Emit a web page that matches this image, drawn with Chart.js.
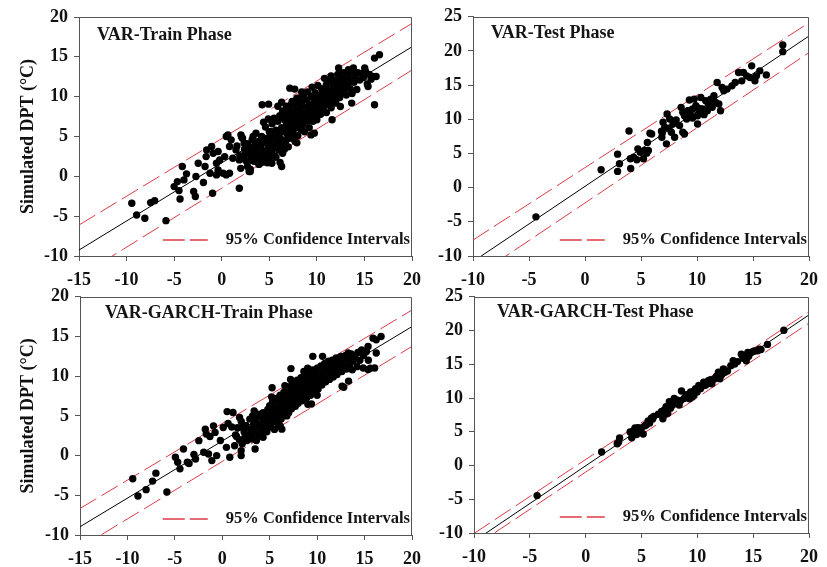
<!DOCTYPE html>
<html>
<head>
<meta charset="utf-8">
<script src="https://cdn.jsdelivr.net/npm/chart.js@4.4.1/dist/chart.umd.min.js"></script>
<style>
  html, body { margin: 0; padding: 0; background: #ffffff; }
  body { width: 827px; height: 567px; position: relative; overflow: hidden; }
  canvas { position: absolute; }
</style>
</head>
<body>
<canvas id="c1" style="left:0px;top:0px;width:430px;height:285px"></canvas>
<canvas id="c2" style="left:420px;top:0px;width:407px;height:285px"></canvas>
<canvas id="c3" style="left:0px;top:280px;width:430px;height:284px"></canvas>
<canvas id="c4" style="left:420px;top:280px;width:407px;height:282px"></canvas>
<script>
// Observed DPT (x) vs simulated DPT (y), degrees C

// ---- VAR, training phase ----
const varTrainPoints = [
  [-9.45,-3.38],[-8.94,-4.85],[-8.08,-5.27],[-7.47,-3.3],[-7.05,-3.05],[-5.86,-5.56],[-5.0,-1.29],[-4.66,-0.66],
  [-4.38,-2.84],[-4.49,-1.79],[-4.14,1.23],[-3.7,0.31],[-3.97,-0.45],[-2.95,-1.91],[-2.77,-2.54],[-2.71,-0.03],
  [-2.47,1.65],[-1.92,-0.78],[-1.75,1.23],[-1.64,2.48],[-1.58,3.32],[-0.96,-2.12],[-1.23,0.39],[-1.06,3.74],
  [-0.89,2.9],[-0.55,1.65],[-0.38,0.81],[-0.55,0.18],[0.14,0.39],[0.48,0.18],[0.82,0.39],[0.48,5.0],[0.65,5.2],
  [0.82,3.74],[0.99,4.58],[0.31,2.48],[-0.21,2.06],[-0.38,3.11],[1.16,2.27],[1.5,3.32],[1.85,2.06],[1.85,-1.5],
  [2.02,5.21],[2.36,4.16],[2.19,4.79],[2.71,1.23],[2.88,0.6],
  [16.58,15.26],[16.06,14.84],[16.06,8.98],[11.6,7.1],[9.38,5.2],[9.73,5.42],[5.27,1.65],[6.13,1.73],[6.3,1.23],
  [7.16,11.07],[7.67,10.95],[4.25,8.98],[4.93,9.06],[12.47,8.77],[13.66,9.19],[12.29,13.59],[13.32,13.38],
  [13.84,13.59],[15.03,13.59],[15.89,12.54],[15.38,11.28],[16.23,12.54],
  [1.6,3.8],[1.9,2.6],[2.1,4.9],[2.3,2.2],[2.4,3.4],[2.6,1.9],[2.7,4.1],[2.8,2.8],[2.9,3.6],[3.0,0.6],[3.0,0.9],
  [3.1,2.3],[3.2,4.6],[3.3,3.1],[3.4,1.9],[3.5,2.6],[3.5,4.0],[3.6,5.4],[3.7,3.4],[3.8,2.1],[3.9,1.5],[3.9,4.4],
  [4.0,2.9],[4.1,3.8],[4.2,5.0],[4.3,2.4],[4.4,1.8],[4.4,4.2],[4.5,3.2],[4.6,6.2],[4.7,2.7],[4.8,4.8],[4.8,1.7],
  [4.9,3.6],[5.0,5.6],[5.0,2.2],[5.1,4.2],[5.2,3.0],[5.3,6.6],[5.4,4.9],[5.5,2.6],[5.5,7.3],[5.6,3.8],[5.7,5.8],
  [5.8,4.4],[5.9,6.9],[6.0,3.3],[6.0,5.2],[6.1,7.6],[6.2,4.7],[6.3,6.1],[6.4,2.9],[6.4,8.2],[6.5,5.6],[6.6,7.1],
  [6.7,4.1],[6.8,6.5],[6.8,8.8],[6.9,5.3],[7.0,7.7],[7.0,3.7],[7.1,6.0],[7.2,8.4],[7.3,4.8],[7.3,7.1],[7.4,9.4],
  [7.5,5.7],[7.5,6.6],[7.6,8.0],[7.7,4.4],[7.7,7.4],[7.8,9.1],[7.9,6.2],[7.9,8.6],[8.0,5.1],[8.0,7.8],[8.1,9.8],
  [8.2,6.8],[8.2,8.3],[8.3,5.9],[8.4,7.3],[8.4,9.3],[8.5,6.4],[8.5,8.8],[8.6,10.2],[8.7,7.6],[8.7,5.6],[8.8,8.0],
  [8.9,9.6],[8.9,6.9],[9.0,7.3],[9.0,10.6],[9.1,8.5],[9.2,6.1],[9.2,9.0],[9.3,7.8],[9.4,10.0],[9.5,8.2],[9.5,11.2],
  [9.6,6.9],[9.7,9.4],[9.8,7.5],[9.8,10.5],[9.9,8.8],[10.0,9.8],[10.0,7.1],[10.1,11.4],[10.2,8.3],[10.3,10.2],
  [10.3,9.2],[10.4,7.8],[10.5,11.0],[10.6,9.6],[10.7,8.6],[10.8,10.7],[10.8,12.3],[10.9,9.1],[11.0,11.5],[11.0,8.0],
  [11.1,10.1],[11.2,9.5],[11.3,11.9],[11.4,10.6],[11.5,8.6],[11.5,12.6],[11.6,9.9],[11.7,11.2],[11.8,10.4],
  [11.9,12.0],[12.0,9.2],[12.0,11.6],[12.1,10.8],[12.2,12.8],[12.3,11.3],[12.4,9.9],[12.5,12.2],[12.6,10.5],
  [12.7,11.7],[12.8,13.0],[12.9,11.0],[13.0,12.4],[13.1,10.2],[13.2,11.6],[13.3,12.9],[13.5,11.0],[13.6,12.2],
  [13.7,10.4],[13.8,13.2],[13.9,11.8],[14.0,12.6],[14.2,10.9],[14.3,13.0],[14.5,12.1],[14.7,12.9],[14.9,12.4],
  [15.1,13.2],[15.3,11.6],[15.5,12.8],[15.7,12.2],
  [2.5,2.9],[3.2,2.0],[3.6,3.0],[4.0,1.6],[4.5,2.1],[5.0,3.0],[5.4,3.5],[5.7,2.4],[6.1,3.9],[6.3,4.5],[6.6,3.4],
  [6.9,4.7],[7.2,5.3],[7.6,5.0],[7.9,4.2],[8.1,6.1],[8.6,6.9],[9.1,7.0],[9.4,7.4],[9.9,8.0],[10.4,8.4],[10.9,10.0],
  [11.3,9.0],[11.8,9.4],[12.2,10.0],[12.6,11.4],[6.2,5.8],[6.7,6.0],[7.1,7.0],[7.4,6.3],[7.8,7.0],[8.3,7.9],
  [8.8,7.2],[9.3,8.9],[9.7,8.0],[10.1,9.2],[10.6,10.0],[11.1,10.8],[5.2,5.6],[5.8,5.0],[6.5,7.8],[7.0,8.2],
  [7.3,9.0],[7.9,9.8],[8.4,10.6],[5.9,8.8],[6.3,9.3],[4.4,6.8],[4.9,7.2],[3.3,5.0],[2.0,1.0]
];
const varTrainFit   = [[-15, -9.25], [20, 16.26]];
const varTrainUpper = [[-15, -6.11], [20, 19.2]];
const varTrainLower = [[-15, -12.6], [20, 13.34]];

// ---- VAR, testing phase ----
const varTestPoints = [
  [-4.38,-4.27],[1.44,2.62],[2.91,4.9],[2.91,2.38],[3.08,3.5],[3.93,8.3],[4.05,4.22],[4.08,2.82],[4.34,4.47],
  [4.63,4.08],[4.72,5.68],[4.93,5.19],[5.22,4.22],[5.36,5.44],[5.51,5.05],[5.57,6.6],[5.8,7.96],[5.95,7.86],
  [5.66,5.44],[6.83,8.25],[6.97,9.56],[6.86,7.38],[7.12,8.83],[7.27,6.41],[7.33,10.78],[7.56,10.05],[7.71,8.1],
  [7.85,9.32],[8.0,7.38],[8.14,9.9],[8.44,9.08],[8.58,11.75],[8.73,8.1],[8.88,10.53],[8.88,7.86],[9.17,11.26],
  [9.32,12.82],[9.46,10.53],[9.61,11.5],[9.75,12.96],[9.9,11.99],[10.05,9.32],[10.05,10.53],[10.19,10.87],
  [10.34,13.2],[10.49,11.5],[10.63,10.68],[10.78,12.72],[10.92,11.26],[11.07,11.99],[11.22,12.96],[11.36,11.75],
  [11.51,13.45],[11.66,12.48],[11.8,15.39],[11.95,12.23],[12.1,11.26],[12.24,14.66],[12.39,14.17],[12.68,14.42],
  [13.12,14.9],[13.41,15.39],[13.71,16.84],[14.0,15.63],[14.14,16.84],[14.44,16.36],[14.73,16.12],[14.88,17.82],
  [15.17,15.63],[15.31,16.36],[15.61,17.09],[16.19,16.5],[17.66,20.87],[17.66,19.9],
  [8.73,11.02],[9.08,10.05],[9.6,10.2],[10.2,11.6],[11.0,12.4],[7.5,8.7],[6.9,8.0],[9.4,11.3]
];
const varTestFit   = [[-10, -10.81], [20, 22.19]];
const varTestUpper = [[-10, -7.67], [20, 24.13]];
const varTestLower = [[-10, -13.24], [20, 19.76]];

// ---- VAR-GARCH, training phase ----
const garchTrainPoints = [
  [-9.44,-2.92],[-8.89,-5.08],[-8.03,-4.29],[-7.35,-3.21],[-7.0,-2.21],[-5.84,-4.58],[-4.94,-0.21],[-4.7,-0.83],
  [-4.46,-1.67],[-4.09,0.83],[-3.68,-0.83],[-3.5,-1.0],[-2.99,0.13],[-2.82,-0.42],[-2.47,1.88],[-1.96,0.42],
  [-1.79,3.33],[-1.69,2.71],[-1.45,0.21],[-1.1,-0.63],[-0.93,3.75],[-0.76,2.92],[-0.59,0.0],[-1.3,2.4],[-0.2,1.9],
  [0.1,3.54],[0.51,5.54],[1.13,5.42],[0.61,4.04],[0.44,1.04],[0.79,-0.21],[1.3,1.25],[1.99,0.63],[1.99,0.0],
  [1.82,4.79],[2.16,3.54],[2.5,2.08],[3.46,0.83],[3.36,5.63],[5.25,8.54],[7.24,10.96],[6.1,3.75],[6.28,3.33],
  [9.02,6.46],[9.54,12.5],[10.57,12.5],[12.63,8.75],[13.31,9.38],[14.86,11.04],[15.37,10.83],[16.06,11.04],
  [16.23,12.92],[16.23,14.58],[16.74,15.0],[15.89,14.79],[13.28,12.92],[14.65,13.13],[15.37,13.75],[1.0,3.6],[1.5,2.4],
  [1.4,2.6],[1.6,3.5],[1.8,2.0],[2.0,4.3],[2.1,1.5],[2.3,3.0],[2.5,3.8],[2.6,1.9],[2.8,2.6],[2.9,4.6],[3.0,3.3],
  [3.1,2.1],[3.2,5.0],[3.3,3.9],[3.4,2.8],[3.5,4.4],[3.6,1.9],[3.7,3.5],[3.8,5.2],[3.9,2.5],[4.0,4.0],[4.1,3.1],
  [4.2,4.8],[4.3,2.3],[4.4,3.7],[4.5,5.3],[4.6,4.3],[4.7,3.0],[4.8,5.8],[4.9,4.7],[5.0,3.6],[5.0,6.3],[5.1,5.1],
  [5.2,4.1],[5.3,6.8],[5.4,5.6],[5.5,3.3],[5.5,4.6],[5.6,6.1],[5.7,7.2],[5.8,5.2],[5.9,4.0],[6.0,6.6],[6.0,5.7],
  [6.1,7.6],[6.2,4.6],[6.3,6.2],[6.4,7.0],[6.4,5.3],[6.5,8.0],[6.6,6.5],[6.7,5.8],[6.8,7.4],[6.8,8.4],[6.9,6.9],
  [7.0,5.4],[7.0,7.9],[7.1,6.3],[7.2,8.7],[7.3,7.2],[7.3,5.9],[7.4,8.2],[7.5,6.7],[7.5,9.2],[7.6,7.6],[7.7,6.2],
  [7.8,8.5],[7.8,7.0],[7.9,9.5],[8.0,7.9],[8.0,6.6],[8.1,8.9],[8.2,7.4],[8.3,9.8],[8.3,8.2],[8.4,6.9],[8.5,8.7],
  [8.6,7.8],[8.6,9.3],[8.7,8.1],[8.8,10.1],[8.9,7.3],[8.9,8.6],[9.0,9.5],[9.1,8.0],[9.2,10.4],[9.2,8.9],[9.3,7.6],
  [9.4,9.8],[9.5,8.4],[9.5,10.8],[9.6,9.2],[9.7,7.9],[9.8,10.2],[9.9,8.8],[10.0,9.6],[10.0,11.0],[10.1,8.4],
  [10.2,10.0],[10.3,9.3],[10.4,11.3],[10.5,8.9],[10.6,10.5],[10.7,9.8],[10.8,11.6],[10.9,9.3],[11.0,10.8],
  [11.1,10.1],[11.2,11.9],[11.3,9.6],[11.4,11.1],[11.5,10.5],[11.6,12.0],[11.7,9.9],[11.8,11.4],[11.9,10.8],
  [12.0,12.3],[12.1,10.2],[12.2,11.7],[12.4,11.0],[12.5,12.5],[12.6,10.6],[12.7,11.9],[12.8,8.6],[12.9,11.3],
  [13.0,12.6],[13.1,10.9],[13.3,12.1],[13.4,11.4],[13.6,12.8],[13.7,10.8],[13.8,11.9],[14.0,12.4],[14.2,11.2],
  [14.3,13.0],[14.5,12.0],[14.7,13.3],[14.9,12.6],[15.2,13.1],[15.4,12.0],[15.6,11.0],
  [5.6,5.5],[6.2,6.0],[6.6,7.2],[7.2,7.6],[7.6,8.3],[8.1,8.0],[8.4,8.9],[8.8,9.0],[9.3,9.3],[9.7,9.6],[10.1,10.2],
  [10.6,9.9],[11.0,10.3],[7.0,7.0],[7.4,7.3],[7.8,7.7],[8.2,8.4],[6.0,7.3],[6.6,8.8],[7.2,9.6],[5.2,7.4],[8.6,10.6],
  [9.0,11.0],[9.4,6.5],[10.0,7.6],[6.8,5.0],[4.3,5.4],[3.6,4.8],[3.0,2.3],[2.4,2.4]
];
const garchTrainFit   = [[-15, -8.96], [20, 16.25]];
const garchTrainUpper = [[-15, -6.66], [20, 18.33]];
const garchTrainLower = [[-15, -11.6], [20, 13.75]];

// ---- VAR-GARCH, testing phase ----
const garchTestPoints = [
  [-4.35,-4.46],[1.43,2.01],[2.83,3.22],[3.04,4.1],[2.95,3.5],[3.98,4.97],[4.12,4.1],[4.42,5.56],[4.56,4.58],
  [4.8,5.07],[5.0,5.56],[5.15,4.68],[5.44,6.04],[5.73,6.29],[5.88,7.01],[6.09,7.26],[6.91,6.92],[7.05,8.23],
  [7.2,8.72],[7.35,7.74],[7.49,9.45],[7.78,8.96],[7.93,9.93],[8.22,9.69],[8.37,8.96],[8.58,11.05],[8.81,9.93],
  [9.1,10.17],[9.4,10.9],[9.54,10.17],[9.69,10.42],[9.84,11.39],[9.98,10.9],[10.13,11.88],[10.28,11.39],
  [10.57,12.36],[10.72,11.88],[11.01,12.61],[11.3,12.12],[11.59,12.85],[11.89,13.82],[12.03,12.85],[12.33,14.31],
  [12.47,13.82],[13.21,15.52],[13.35,15.04],[13.94,16.49],[14.23,16.25],[14.38,15.52],[14.52,16.74],[14.82,16.74],
  [15.11,16.98],[15.55,17.22],[16.28,17.95],[17.75,20.04],
  [4.3,5.2],[4.7,5.6],[5.3,5.9],[5.6,6.6],[6.0,6.9],[6.5,7.6],[6.8,8.0],[7.0,7.5],[7.6,8.5],[8.0,9.2],[8.5,9.6],
  [9.0,10.5],[9.3,9.9],[9.7,11.0],[10.0,11.4],[10.4,11.7],[10.9,12.1],[11.2,12.7],[11.7,13.2],[12.2,13.5],
  [12.7,14.0],[13.0,14.8],[13.6,15.4],[14.1,15.9],[14.6,16.2],[15.0,16.9],[15.4,17.0],[15.7,17.2]
];
const garchTestFit   = [[-10, -11.22], [20, 22.32]];
const garchTestUpper = [[-10, -10.07], [20, 22.81]];
const garchTestLower = [[-10, -12.01], [20, 21.11]];

const toXY = arr => arr.map(p => ({ x: p[0], y: p[1] }));

const FONT_FAMILY = "'Liberation Serif', 'Times New Roman', Times, serif";
const RED = '#dc3b47';
const FRAME = '#555555';

const panels = [
  { id: 'c1', title: 'VAR-Train Phase', pts: varTrainPoints, fit: varTrainFit, up: varTrainUpper, lo: varTrainLower,
    x: [-15, 20], y: [-10, 20], yw: 79, pad: { top: 17, right: 10, left: 0, bottom: 0 }, yTitle: true, tdx: 18, tdy: 18 },
  { id: 'c2', title: 'VAR-Test Phase', pts: varTestPoints, fit: varTestFit, up: varTestUpper, lo: varTestLower,
    x: [-10, 20], y: [-10, 25], yw: 53, pad: { top: 16, right: 12, left: 0, bottom: 0 }, yTitle: false, tdx: 18, tdy: 17 },
  { id: 'c3', title: 'VAR-GARCH-Train Phase', pts: garchTrainPoints, fit: garchTrainFit, up: garchTrainUpper, lo: garchTrainLower,
    x: [-15, 20], y: [-10, 20], yw: 80, pad: { top: 15, right: 10, left: 0, bottom: 0 }, yTitle: true, tdx: 25, tdy: 17 },
  { id: 'c4', title: 'VAR-GARCH-Test Phase', pts: garchTestPoints, fit: garchTestFit, up: garchTestUpper, lo: garchTestLower,
    x: [-10, 20], y: [-10, 25], yw: 54, pad: { top: 13, right: 11, left: 0, bottom: 0 }, yTitle: false, tdx: 23, tdy: 16 }
];

// frame, in-panel caption and confidence-interval key
const panelDecor = {
  id: 'panelDecor',
  afterDraw(chart, args, opts) {
    const { ctx, chartArea: a } = chart;
    ctx.save();
    ctx.setLineDash([]);
    ctx.strokeStyle = FRAME;
    ctx.lineWidth = 1;
    ctx.beginPath();
    ctx.moveTo(Math.round(a.left) + 0.5, Math.round(a.top) + 0.5);
    ctx.lineTo(Math.round(a.right) - 0.5, Math.round(a.top) + 0.5);
    ctx.lineTo(Math.round(a.right) - 0.5, Math.round(a.bottom) + 0.5);
    ctx.stroke();

    ctx.fillStyle = '#151515';
    ctx.font = `bold 18px ${FONT_FAMILY}`;
    ctx.textBaseline = 'middle';
    ctx.textAlign = 'left';
    ctx.fillText(opts.title, a.left + opts.tdx, a.top + opts.tdy);

    const key = '95% Confidence Intervals';
    ctx.font = `bold 16.5px ${FONT_FAMILY}`;
    const tw = ctx.measureText(key).width;
    const tx = a.right - 2 - tw;
    const ty = a.bottom - 16;
    ctx.fillText(key, tx, ty);
    // two red dashes as the key sample
    ctx.strokeStyle = RED;
    ctx.lineWidth = 1.3;
    ctx.beginPath();
    ctx.moveTo(tx - 63, ty);
    ctx.lineTo(tx - 41, ty);
    ctx.moveTo(tx - 36, ty);
    ctx.lineTo(tx - 18, ty);
    ctx.stroke();
    ctx.restore();
  }
};

panels.forEach(p => {
  const tickFont = { family: FONT_FAMILY, size: 18, weight: 'bold' };
  new Chart(document.getElementById(p.id), {
    type: 'scatter',
    data: {
      datasets: [
        { label: 'Observed vs simulated', data: toXY(p.pts), backgroundColor: '#000', borderColor: '#000',
          pointRadius: 3.7, pointHoverRadius: 3.7, borderWidth: 0 },
        { label: 'Fit', data: toXY(p.fit), showLine: true, pointRadius: 0, borderColor: '#000', borderWidth: 1, fill: false },
        { label: '95% Confidence Intervals', data: toXY(p.up), showLine: true, pointRadius: 0, borderColor: RED,
          borderWidth: 1, borderDash: [19, 6], fill: false },
        { label: '95% Confidence Intervals', data: toXY(p.lo), showLine: true, pointRadius: 0, borderColor: RED,
          borderWidth: 1, borderDash: [19, 6], fill: false }
      ]
    },
    options: {
      responsive: false,
      animation: false,
      devicePixelRatio: 1,
      layout: { padding: p.pad },
      plugins: {
        legend: { display: false },
        tooltip: { enabled: false },
        panelDecor: { title: p.title, tdx: p.tdx, tdy: p.tdy }
      },
      scales: {
        x: {
          type: 'linear', min: p.x[0], max: p.x[1],
          ticks: { stepSize: 5, font: tickFont, color: '#111', padding: 9, maxRotation: 0 },
          grid: { display: true, drawOnChartArea: false, drawTicks: true, tickLength: 5, color: FRAME },
          border: { display: true, color: FRAME, width: 1 },
          afterFit(s) { s.height = 29; }
        },
        y: {
          type: 'linear', min: p.y[0], max: p.y[1],
          ticks: { stepSize: 5, font: tickFont, color: '#111', padding: 6 },
          grid: { display: true, drawOnChartArea: false, drawTicks: true, tickLength: 5, color: FRAME },
          border: { display: true, color: FRAME, width: 1 },
          title: { display: p.yTitle, text: 'Simulated DPT (°C)', color: '#111',
                   font: { family: FONT_FAMILY, size: 18, weight: 'bold' }, padding: { top: 18, bottom: 0 } },
          afterFit(s) { s.width = p.yw; }
        }
      }
    },
    plugins: [panelDecor]
  });
});
</script>
</body>
</html>
